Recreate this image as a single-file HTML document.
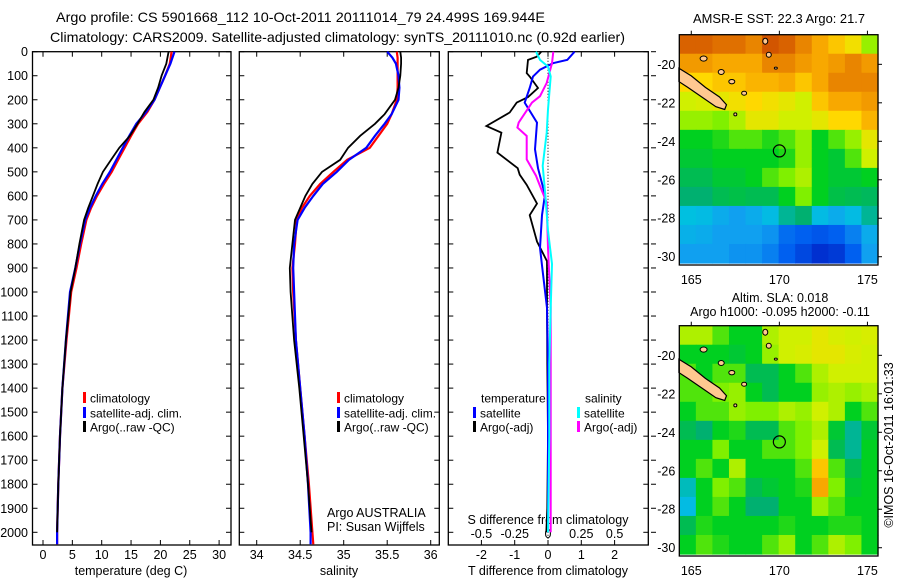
<!DOCTYPE html>
<html><head><meta charset="utf-8"><style>
html,body{margin:0;padding:0;background:#fff;}
svg{display:block;font-family:"Liberation Sans",sans-serif;}
text{fill:#000;}
</style></head><body>
<svg id="fig" width="900" height="580" viewBox="0 0 900 580">
<text x="56" y="22" font-size="14" textLength="489" lengthAdjust="spacingAndGlyphs">Argo profile: CS 5901668_112 10-Oct-2011 20111014_79 24.499S 169.944E</text>
<text x="50" y="42" font-size="14" textLength="575" lengthAdjust="spacingAndGlyphs">Climatology: CARS2009. Satellite-adjusted climatology: synTS_20111010.nc (0.92d earlier)</text>
<text x="693" y="23" font-size="12.5" textLength="172" lengthAdjust="spacingAndGlyphs">AMSR-E SST: 22.3 Argo: 21.7</text>
<text x="780" y="302" font-size="12.5" text-anchor="middle">Altim. SLA: 0.018</text>
<text x="780" y="316" font-size="12.5" text-anchor="middle">Argo h1000: -0.095 h2000: -0.11</text>
<text x="0" y="0" font-size="12.5" text-anchor="middle" transform="translate(893,445) rotate(-90)">©IMOS 16-Oct-2011 16:01:33</text>
<text x="131" y="575" font-size="12.5" text-anchor="middle">temperature (deg C)</text>
<text x="339" y="575" font-size="12.5" text-anchor="middle">salinity</text>
<text x="548" y="575" font-size="12.5" text-anchor="middle">T difference from climatology</text>
<text x="548" y="524" font-size="12.5" text-anchor="middle">S difference from climatology</text>
<text x="327" y="517" font-size="12.5">Argo AUSTRALIA</text>
<text x="327" y="531" font-size="12.5">PI: Susan Wijffels</text>
<g id="layer"></g>
</svg>
<script>
// ---- profile data ----
const tDepth = [0,50,100,150,200,250,300,350,400,450,500,550,600,650,700,800,900,1000,1200,1400,1600,1800,2000,2050];
const tClim = [21.9,21.6,20.8,19.9,19.0,17.8,16.2,15.0,13.9,12.8,11.7,10.4,9.2,8.2,7.4,6.5,5.7,4.8,4.0,3.3,2.9,2.6,2.4,2.4];
const tSat  = [22.4,21.7,20.8,19.9,19.0,17.6,15.9,14.7,13.6,12.5,11.4,10.1,9.0,8.0,7.2,6.3,5.5,4.6,3.9,3.3,2.9,2.6,2.4,2.4];
const tArgo = [21.4,21.0,20.2,19.6,18.8,17.3,16.1,14.8,13.0,11.6,10.2,9.3,8.5,7.7,7.0,6.2,5.5,4.7,3.9,3.3,2.9,2.6,2.4,2.4];
const sDepth = [0,25,50,100,150,200,260,300,350,400,450,500,550,600,650,700,800,900,1000,1200,1400,1600,1800,2000,2050];
const sClim = [35.61,35.62,35.62,35.62,35.62,35.61,35.55,35.50,35.40,35.30,35.04,34.88,34.73,34.61,34.52,34.46,34.44,34.41,34.42,34.45,34.50,34.55,34.60,34.64,34.65];
const sSat  = [35.50,35.56,35.60,35.63,35.64,35.63,35.55,35.47,35.36,35.26,35.06,34.92,34.76,34.65,34.55,34.47,34.43,34.42,34.43,34.45,34.50,34.55,34.59,34.62,34.62];
const sArgo = [35.65,35.66,35.66,35.65,35.63,35.59,35.47,35.36,35.19,35.05,34.96,34.75,34.64,34.56,34.50,34.44,34.41,34.38,34.39,34.43,34.49,34.54,34.59,34.63,34.63];
const dTArgoDepth = [0,21,34,89,103,151,189,212,253,309,337,420,485,512,554,632,680,790,872,1066,1300,1600,1900,2000];
const dTArgo = [-0.2,-0.34,-0.6,-0.64,-0.55,-0.3,-0.6,-0.94,-1.15,-1.85,-1.4,-1.52,-0.91,-0.85,-0.64,-0.33,-0.55,-0.33,-0.03,-0.03,-0.02,0,-0.02,-0.05];
const dTSatDepth = [0,34,48,75,103,151,212,295,406,485,595,680,817,925,1066,1300,1600,1900,2000];
const dTSat = [0.8,0.58,0.15,-0.24,-0.45,-0.55,-0.7,-0.33,-0.39,-0.3,-0.09,-0.18,-0.24,-0.15,-0.03,0,0,0,0];
const dSArgoDepth = [0,48,130,185,212,295,316,351,448,516,572,627,817,1066,1300,1600,2000];
const dSArgo = [0.04,0.03,-0.01,-0.06,-0.12,-0.22,-0.23,-0.16,-0.16,-0.09,-0.05,-0.01,0,0.02,0.02,0.02,0.02];
const dSSatDepth = [0,34,62,103,240,337,475,595,745,883,1066,1300,1600,2000];
const dSSat = [-0.09,-0.06,0,0.02,0,-0.01,-0.04,-0.02,0,0.03,0.02,0.01,0.01,0];
const depthTicks = [0,100,200,300,400,500,600,700,800,900,1000,1100,1200,1300,1400,1500,1600,1700,1800,1900,2000];
const tTicks = [0,5,10,15,20,25,30];
const sTicks = [34,34.5,35,35.5,36];
const dTTicks = [-2,-1,0,1,2];
const dSTicks = [-0.5,-0.25,0,0.25,0.5];
const dSTickLabels = ["-0.5","-0.25","0","0.25","0.5"];
// ---- map data (normalised colour values, rows N->S, cols W->E) ----
const sstGrid = [
[0.9,0.9,0.88,0.88,0.85,0.92,0.9,0.85,0.8,0.75,0.7,0.6],
[0.82,0.82,0.8,0.8,0.8,0.85,0.85,0.82,0.8,0.82,0.85,0.82],
[0.72,0.72,0.75,0.75,0.78,0.78,0.8,0.75,0.8,0.85,0.85,0.85],
[0.65,0.66,0.68,0.7,0.72,0.7,0.68,0.65,0.75,0.8,0.8,0.82],
[0.6,0.6,0.58,0.62,0.68,0.68,0.65,0.65,0.68,0.72,0.72,0.78],
[0.5,0.5,0.52,0.55,0.55,0.52,0.55,0.6,0.5,0.55,0.6,0.68],
[0.48,0.48,0.5,0.5,0.5,0.5,0.52,0.6,0.5,0.48,0.55,0.65],
[0.45,0.45,0.48,0.48,0.5,0.55,0.58,0.62,0.5,0.48,0.48,0.5],
[0.42,0.42,0.45,0.46,0.45,0.45,0.5,0.58,0.5,0.46,0.45,0.44],
[0.36,0.35,0.32,0.3,0.32,0.35,0.4,0.42,0.35,0.32,0.35,0.4],
[0.33,0.32,0.3,0.3,0.3,0.28,0.22,0.2,0.18,0.2,0.25,0.32],
[0.3,0.3,0.3,0.28,0.28,0.25,0.2,0.15,0.1,0.12,0.2,0.3]];
const slaGrid = [
[0.62,0.62,0.55,0.5,0.5,0.62,0.65,0.65,0.68,0.66,0.65,0.66],
[0.5,0.5,0.5,0.48,0.5,0.6,0.65,0.66,0.68,0.68,0.66,0.65],
[0.55,0.5,0.55,0.55,0.45,0.45,0.5,0.55,0.62,0.65,0.65,0.65],
[0.55,0.55,0.58,0.6,0.5,0.45,0.5,0.5,0.6,0.62,0.6,0.62],
[0.5,0.55,0.55,0.6,0.58,0.58,0.62,0.6,0.65,0.62,0.5,0.55],
[0.45,0.42,0.5,0.52,0.45,0.45,0.55,0.58,0.62,0.48,0.4,0.48],
[0.5,0.5,0.58,0.5,0.5,0.55,0.55,0.58,0.65,0.45,0.4,0.5],
[0.5,0.55,0.5,0.62,0.5,0.5,0.5,0.55,0.75,0.55,0.45,0.5],
[0.38,0.5,0.58,0.55,0.45,0.48,0.5,0.52,0.8,0.58,0.48,0.5],
[0.35,0.5,0.55,0.5,0.42,0.42,0.5,0.5,0.6,0.55,0.5,0.5],
[0.45,0.52,0.5,0.5,0.5,0.5,0.52,0.5,0.5,0.52,0.52,0.5],
[0.5,0.55,0.52,0.5,0.5,0.55,0.6,0.5,0.55,0.62,0.58,0.5]];
const latTicks = [-20,-22,-24,-26,-28,-30];
const lonTicks = [165,170,175];
const argoLon = 170.0, argoLat = -24.5;

const NS='http://www.w3.org/2000/svg';
const layer=document.getElementById('layer');
function mk(tag,attrs,parent){const e=document.createElementNS(NS,tag);for(const k in attrs)e.setAttribute(k,attrs[k]);(parent||layer).appendChild(e);return e;}

const yD = d => 51.7 + d*0.2403;
const xT = t => 43 + t*5.87;
const xS = s => 239.3 + (s-33.8)*87;
const xDT = v => 548 + v*33.3;
const xDS = v => 548 + v*133.2;

const panels=[{x0:32.5,x1:231,name:'temperature-panel'},{x0:239.3,x1:439.3,name:'salinity-panel'},{x0:448.3,x1:648.3,name:'difference-panel'}];
const Y0=51.7,Y1=545;

panels.forEach((p,i)=>{
  const r=mk('rect',{x:p.x0,y:Y0,width:p.x1-p.x0,height:Y1-Y0,fill:'none',stroke:'#000','stroke-width':1.3});
  
  
  depthTicks.forEach(d=>{
    const t1=mk('line',{x1:p.x0,x2:p.x0+5,y1:yD(d),y2:yD(d),stroke:'#000','stroke-width':1});
    
    
    const t2=mk('line',{x1:p.x1-5,x2:p.x1,y1:yD(d),y2:yD(d),stroke:'#000','stroke-width':1});
    
    
  });
});
depthTicks.forEach(d=>{
  const t=mk('text',{x:28,y:yD(d)+4.5,'font-size':12.5,'text-anchor':'end'});
  t.textContent=d;
  
  
  const rt=mk('line',{x1:651,x2:656,y1:yD(d),y2:yD(d),stroke:'#000','stroke-width':1});
  
  
});
function xticks(vals,labels,fx,ly){
  vals.forEach((v,i)=>{
    const a=mk('line',{x1:fx(v),x2:fx(v),y1:Y0,y2:Y0+5,stroke:'#000'});
    
    
    const b=mk('line',{x1:fx(v),x2:fx(v),y1:Y1-5,y2:Y1,stroke:'#000'});
    
    
    const t=mk('text',{x:fx(v),y:ly,'font-size':12.5,'text-anchor':'middle'});
    t.textContent=labels?labels[i]:String(v);
    
    
  });
}
xticks(tTicks,null,xT,559);
xticks(sTicks,null,xS,559);
xticks(dTTicks,null,xDT,559);
dSTicks.forEach((v,i)=>{
  const t=mk('text',{x:xDS(v),y:538,'font-size':12.5,'text-anchor':'middle'});
  t.textContent=dSTickLabels[i];
  
  
});
const zl=mk('line',{x1:548,x2:548,y1:Y0+3,y2:Y1,stroke:'#000','stroke-width':1,'stroke-dasharray':'1,2'});



function series(depths,vals,fx,color,name,w){
  const pts=depths.map((d,i)=>fx(vals[i]).toFixed(1)+','+yD(d).toFixed(1)).join(' ');
  const pl=mk('polyline',{points:pts,fill:'none',stroke:color,'stroke-width':w||2,'stroke-linejoin':'miter'});
  
  
}
series(tDepth,tClim,xT,'#ff0000','temp-climatology-line',2.2);
series(tDepth,tSat,xT,'#0000ff','temp-satellite-line',2.2);
series(tDepth.slice(0,23),tArgo.slice(0,23),xT,'#000000','temp-argo-line',1.8);
series(sDepth,sClim,xS,'#ff0000','sal-climatology-line',2.2);
series(sDepth,sSat,xS,'#0000ff','sal-satellite-line',2.2);
series(sDepth.slice(0,24),sArgo.slice(0,24),xS,'#000000','sal-argo-line',1.8);
series(dTArgoDepth,dTArgo,xDT,'#000000','tdiff-argo-line',1.8);
series(dTSatDepth,dTSat,xDT,'#0000ff','tdiff-satellite-line',2);
series(dSArgoDepth,dSArgo,xDS,'#ff00ff','sdiff-argo-line',2);
series(dSSatDepth,dSSat,xDS,'#00ffff','sdiff-satellite-line',2);

function legend(x,y,color,label,name){
  if(color){
    const b=mk('rect',{x:x,y:y-6,width:3,height:11,fill:color});
    
    
  }
  const t=mk('text',{x:x+7,y:y+4.5,'font-size':12});
  t.textContent=label;
  
  
}
legend(83,398,'#ff0000','climatology','legend-climatology');
legend(83,413,'#0000ff','satellite-adj. clim.','legend-satellite');
legend(83,427,'#000000','Argo(..raw -QC)','legend-argo');
legend(337,398,'#ff0000','climatology','legend-climatology');
legend(337,413,'#0000ff','satellite-adj. clim.','legend-satellite');
legend(337,427,'#000000','Argo(..raw -QC)','legend-argo');
legend(474,398,null,'temperature','legend-temperature-heading');
legend(473,413,'#0000ff','satellite','legend-t-satellite');
legend(473,427,'#000000','Argo(-adj)','legend-t-argo');
legend(578,398,null,'salinity','legend-salinity-heading');
legend(577,413,'#00ffff','satellite','legend-s-satellite');
legend(577,427,'#ff00ff','Argo(-adj)','legend-s-argo');

// ---- maps ----
const stops=[[0,[0,16,160]],[0.1,[0,48,208]],[0.2,[0,96,240]],[0.3,[16,160,240]],[0.36,[0,192,224]],[0.42,[0,176,112]],[0.5,[0,208,32]],[0.58,[128,240,0]],[0.65,[208,240,0]],[0.72,[255,216,0]],[0.8,[248,168,0]],[0.88,[224,112,0]],[0.95,[200,64,0]],[1,[176,0,0]]];
function cmap(v){
  for(let i=1;i<stops.length;i++){if(v<=stops[i][0]){const a=stops[i-1],b=stops[i];const f=(v-a[0])/(b[0]-a[0]);return 'rgb('+a[1].map((c,k)=>Math.round(c+(b[1][k]-c)*f)).join(',')+')';}}
  return 'rgb(176,0,0)';
}
const MX0=679.3,MX1=878,LON0=164.32,LON1=175.6,LAT0=-18.46,LAT1=-30.43;
function drawMap(grid,top,name){
  const bot=top+230.3;
  const lx=lon=>MX0+(lon-LON0)/(LON1-LON0)*(MX1-MX0);
  const ly=lat=>top+(LAT0-lat)/(LAT0-LAT1)*(bot-top);
  const rows=grid.length,cols=grid[0].length;
  const cw=(MX1-MX0)/cols,ch=(bot-2-top)/rows;
  grid.forEach((row,r)=>row.forEach((v,c)=>{
    const cell=mk('rect',{x:(MX0+c*cw).toFixed(2),y:(top+r*ch).toFixed(2),width:(cw+0.6).toFixed(2),height:(ch+0.6).toFixed(2),fill:cmap(v)});
    
    
  }));
  const nc=mk('polygon',{points:[[164.3,-20.2],[165.0,-20.6],[165.8,-21.2],[166.6,-21.7],[167.0,-22.1],[166.9,-22.35],[166.4,-22.2],[165.6,-21.7],[164.8,-21.2],[164.3,-20.9]].map(p=>lx(p[0]).toFixed(1)+','+ly(p[1]).toFixed(1)).join(' '),fill:'#ffc890',stroke:'#000','stroke-width':1.2});
  
  
  [[165.7,-19.7,3.5,2.6],[166.7,-20.4,3,2.5],[167.3,-20.9,3,2.2],[168.0,-21.5,2.5,2],[169.2,-18.8,2.5,3],[169.4,-19.5,2.5,2.5],[169.8,-20.2,1.5,1],[167.5,-22.6,1.5,1.5]].forEach(p=>{
    const e=mk('ellipse',{cx:lx(p[0]),cy:ly(p[1]),rx:p[2],ry:p[3],fill:'#ffc890',stroke:'#000','stroke-width':1});
    
    
  });
  const circ=mk('circle',{cx:lx(argoLon),cy:ly(argoLat),r:6,fill:'none',stroke:'#000','stroke-width':1.2});
  
  
  const fr=mk('rect',{x:MX0,y:top,width:MX1-MX0,height:bot-top,fill:'none',stroke:'#000','stroke-width':1.3});
  
  
  latTicks.forEach(lat=>{
    const t=mk('text',{x:MX0-4,y:ly(lat)+4.5,'font-size':12.5,'text-anchor':'end'});
    t.textContent=lat;
    
    
    const tk=mk('line',{x1:MX1,x2:MX1+4,y1:ly(lat),y2:ly(lat),stroke:'#000'});
    
    
  });
  lonTicks.forEach(lon=>{
    const t=mk('text',{x:lx(lon),y:bot+19,'font-size':12.5,'text-anchor':'middle'});
    t.textContent=lon;
    
    
    const tk=mk('line',{x1:lx(lon),x2:lx(lon),y1:top-4,y2:top,stroke:'#000'});
    
    
  });
}
drawMap(sstGrid,34.7,'sst-map');
drawMap(slaGrid,325.7,'sla-map');
</script>
</body></html>
